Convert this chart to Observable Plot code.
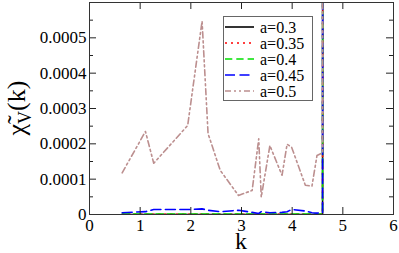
<!DOCTYPE html>
<html>
<head>
<meta charset="utf-8">
<script src="https://cdn.jsdelivr.net/npm/d3@7"></script>
<script src="https://cdn.jsdelivr.net/npm/@observablehq/plot@0.6"></script>
<style>
  html, body { margin: 0; padding: 0; background: #fff; }
  #chart { position: relative; width: 399px; height: 253px; }
</style>
</head>
<body>
<div id="chart"></div>
<script>
// k sample positions (last point shoots off the top of the frame)
const kValues = [0.645, 1.104, 1.268, 1.938, 2.222, 2.34, 2.58, 2.94, 3.21, 3.34, 3.39, 3.56, 3.8, 3.9, 3.99, 4.26, 4.39, 4.49, 4.6, 4.63];
// series values in units of 1e-4
const a03  = [0, 0, 0, 0, 0, 0, 0, 0, 0, 0, 0, 0, 0, 0, 0, 0, 0, 0, 0, 100];
const a035 = [0.005, 0.005, 0.005, 0.005, 0.005, 0.005, 0.005, 0.005, 0.005, 0.005, 0.005, 0.005, 0.005, 0.005, 0.005, 0.005, 0.005, 0.005, 0.005, 100];
const a04  = [0.01, 0.01, 0.01, 0.01, 0.01, 0.01, 0.01, 0.01, 0.01, 0.01, 0.01, 0.01, 0.01, 0.01, 0.01, 0.01, 0.01, 0.01, 0.01, 100];
const a045 = [0.05, 0.08, 0.14, 0.14, 0.16, 0.12, 0.08, 0.12, 0.06, 0.03, 0.08, 0.05, 0.06, 0.08, 0.14, 0.10, 0.05, 0.04, 0.05, 100];
const a05  = [1.18, 2.35, 1.45, 2.52, 5.47, 2.29, 1.25, 0.54, 0.68, 2.14, 0.49, 1.95, 1.11, 1.99, 1.90, 0.83, 0.80, 1.67, 1.75, 100];
const seriesNames = ["a=0.3", "a=0.35", "a=0.4", "a=0.45", "a=0.5"];
const seriesValues = [a03, a035, a04, a045, a05];
const seriesColors = ["#000000", "#ff0000", "#00e000", "#0000ff", "#bc8f8f"];
const seriesDash = [null, "2,4", "7.3,4", "10,4.5", "6,3,2,3,2,3"];
const xTicks = [0, 1, 2, 3, 4, 5, 6];
const yTicks = [0, 0.0001, 0.0002, 0.0003, 0.0004, 0.0005];
const yMinor = [0.00005, 0.00015, 0.00025, 0.00035, 0.00045, 0.00055];
const yTickLabels = ["0", "0.0001", "0.0002", "0.0003", "0.0004", "0.0005"];

const FONT = "'Liberation Serif', 'DejaVu Serif', serif";
const W = 399, H = 253, mL = 89, mR = 6, mT = 2, mB = 39;
const fw = W - mL - mR, fh = H - mT - mB;

const rows = [];
seriesValues.forEach((vals, si) => vals.forEach((v, i) => rows.push({s: si, k: kValues[i], v: v * 1e-4})));

const lineMarks = seriesValues.map((_, si) =>
  Plot.line(rows.filter(r => r.s === si), {
    x: "k", y: "v", stroke: seriesColors[si], strokeWidth: 1.6,
    strokeDasharray: seriesDash[si] || undefined, clip: true, curve: "linear"
  })
);

const tickColor = "#222";
const plot = Plot.plot({
  width: W, height: H,
  marginLeft: mL, marginRight: mR, marginTop: mT, marginBottom: mB,
  x: {domain: [0, 6]},
  y: {domain: [0, 0.0006]},
  style: {fontSize: "17px", fontFamily: FONT, background: "#fff", color: "#000"},
  marks: [
    ...lineMarks,
    // inward tick marks on all four sides
    Plot.tickX(xTicks, {x: d => d, insetTop: fh - 7, stroke: tickColor}),
    Plot.tickX(xTicks, {x: d => d, insetBottom: fh - 7, stroke: tickColor}),
    Plot.tickY(yTicks.concat([0.0006]), {y: d => d, insetRight: fw - 7, stroke: tickColor}),
    Plot.tickY(yTicks.concat([0.0006]), {y: d => d, insetLeft: fw - 7, stroke: tickColor}),
    Plot.tickY(yMinor, {y: d => d, insetRight: fw - 4, stroke: tickColor}),
    Plot.tickY(yMinor, {y: d => d, insetLeft: fw - 4, stroke: tickColor}),
    Plot.axisX(xTicks, {tickSize: 0, tickPadding: 4, label: null, fontFamily: FONT, tickFormat: d => String(d)}),
    Plot.axisY(yTicks, {tickSize: 0, tickPadding: 3, label: null, fontFamily: FONT, tickFormat: d => yTickLabels[yTicks.indexOf(d)]}),
    Plot.frame({stroke: "#333", strokeWidth: 1})
  ]
});

document.getElementById("chart").appendChild(plot);
const svg = d3.select(plot);
svg.selectAll("text").attr("font-family", FONT).style("font-family", FONT);

// axis titles
svg.append("text")
  .attr("x", mL + fw / 2).attr("y", 249)
  .attr("text-anchor", "middle")
  .style("font-family", FONT)
  .style("font-size", "24px")
  .text("k");

const yl = svg.append("text")
  .attr("transform", "translate(25,108) rotate(-90)")
  .attr("text-anchor", "middle")
  .style("font-family", FONT)
  .style("font-size", "26px");
yl.append("tspan").text("\u03C7\u0303");
yl.append("tspan").attr("dy", 6).style("font-size", "18px").text("V");
yl.append("tspan").attr("dy", -6).text("(k)");

// legend
const lg = svg.append("g").style("font-family", FONT).attr("text-anchor", "start");
const lx = 223.5, ly = 16.5, lw = 89, lh = 84;
lg.append("rect").attr("x", lx).attr("y", ly).attr("width", lw).attr("height", lh)
  .attr("fill", "#fff").attr("stroke", "#666").attr("stroke-width", 1);
seriesNames.forEach((name, i) => {
  const yy = 27 + i * 16;
  lg.append("line").attr("x1", 225).attr("x2", 254).attr("y1", yy).attr("y2", yy)
    .attr("stroke", seriesColors[i]).attr("stroke-width", 1.6)
    .attr("stroke-dasharray", seriesDash[i]);
  lg.append("text").attr("x", 260).attr("y", yy + 5.5)
    .attr("text-anchor", "start")
    .style("font-family", FONT).style("font-size", "16px").text(name);
});
</script>
</body>
</html>
